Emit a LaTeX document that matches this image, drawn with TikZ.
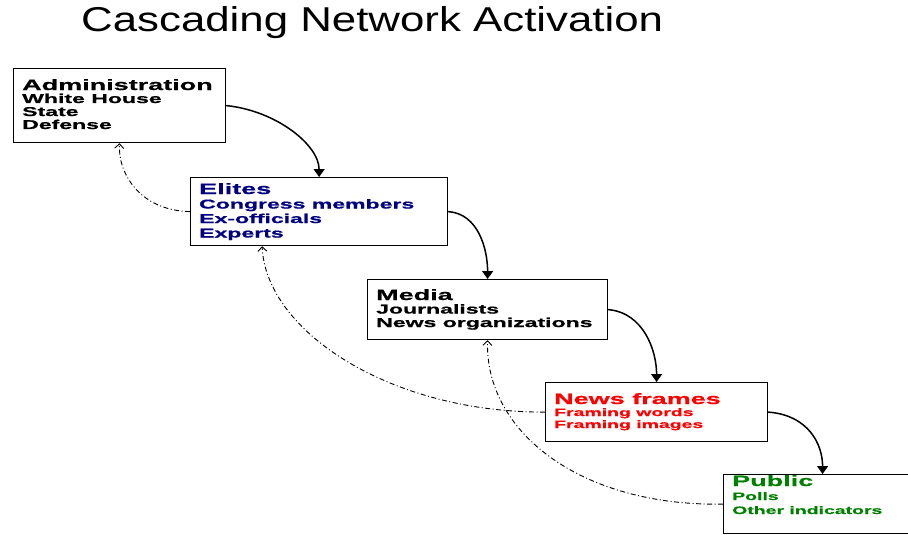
\documentclass[tikz,border=0pt]{standalone}
\usepackage{fontspec}
\setmainfont{Liberation Sans}
\newfontfamily\titlefont[FakeStretch=1.27]{Liberation Sans}
\newfontfamily\widefont[FakeStretch=1.8,FakeBold=0.8]{Liberation Sans}
\usetikzlibrary{arrows.meta,calc}
\definecolor{elitecol}{RGB}{0,0,128}
\definecolor{framecol}{RGB}{255,0,0}
\definecolor{publiccol}{RGB}{0,128,0}
\newcommand\headf{\widefont\bfseries\fontsize{15}{15}\selectfont}
\newcommand\subf{\widefont\bfseries\fontsize{12.8}{13}\selectfont}
\newcommand\subsmall{\widefont\bfseries\fontsize{10.8}{11}\selectfont}
% stack of lines, baseline of the whole group = baseline of the first line
\newcommand\linestack[2]{\vtop{\baselineskip=#1\lineskiplimit=-20pt\lineskip=0pt\relax #2}}
\begin{document}
\begin{tikzpicture}[x=1pt,y=-1pt,
  box/.style={draw=black, line width=1.2pt, fill=white, inner sep=0pt, anchor=north west},
  lbl/.style={inner sep=0pt, anchor=base west},
  push/.style={line width=1.5pt, -{Triangle[width=11pt,length=8pt]}},
  feedback/.style={line width=0.9pt, dash pattern=on 5pt off 2.5pt on 1pt off 2.5pt,
    -{Straight Barb[width=9pt,length=4.5pt]}}]
\useasboundingbox (0,0) rectangle (908,535);

\node[lbl, font=\titlefont\fontsize{34.5}{35}\selectfont] (title) at (81,32) {Cascading Network Activation};

% actor boxes
\node[box, minimum width=212pt, minimum height=74pt] (admin) at (13,68) {};
\node[box, minimum width=257pt, minimum height=68pt] (elites) at (190,177) {};
\node[box, minimum width=240pt, minimum height=60pt] (media) at (367,279) {};
\node[box, minimum width=222pt, minimum height=59pt] (frames) at (545,382) {};
\node[box, minimum width=198pt, minimum height=59pt] (public) at (723,474) {};

% box contents
\node[lbl] (admintext) at ([shift={(9,22)}]admin.north west)
  {\linestack{13pt}{\hbox{\headf Administration}\hbox{\subf White House}\hbox{\subf State}\hbox{\subf Defense}}};
\node[lbl, text=elitecol] (elitestext) at ([shift={(9,17)}]elites.north west)
  {\linestack{14.5pt}{\hbox{\headf Elites}\hbox{\subf Congress members}\hbox{\subf Ex-officials}\hbox{\subf Experts}}};
\node[lbl] (mediatext) at ([shift={(9,21)}]media.north west)
  {\linestack{13.5pt}{\hbox{\headf Media}\hbox{\subf Journalists}\hbox{\subf News organizations}}};
\node[lbl, text=framecol] (framestext) at ([shift={(9,22)}]frames.north west)
  {\linestack{12pt}{\hbox{\headf News frames}\hbox{\subsmall Framing words}\hbox{\subsmall Framing images}}};
\node[lbl, text=publiccol] (publictext) at ([shift={(9,12)}]public.north west)
  {\linestack{14pt}{\hbox{\headf Public}\hbox{\subsmall Polls}\hbox{\subsmall Other indicators}}};

% cascade downwards
\draw[push] (admin.east) .. controls +(50,5) and +(0,-32) .. (elites.north);
\draw[push] (elites.east) .. controls +(30,2) and +(0,-30) .. (media.north);
\draw[push] (media.east) .. controls +(35,3) and +(0,-32) .. (frames.north);
\draw[push] (frames.east) .. controls +(40,3) and +(0,-30) .. (public.north);

% feedback upwards
\coordinate (elitesin) at ([xshift=-57pt]elites.south);
\draw[feedback] (elites.west) .. controls +(-50,-1) and +(-2,30) .. (admin.south);
\draw[feedback] (frames.west) .. controls +(-155,0.5) and +(4,85) .. (elitesin);
\draw[feedback] (public.west) .. controls +(-143,2.5) and +(-3,91) .. (media.south);
\end{tikzpicture}
\end{document}
